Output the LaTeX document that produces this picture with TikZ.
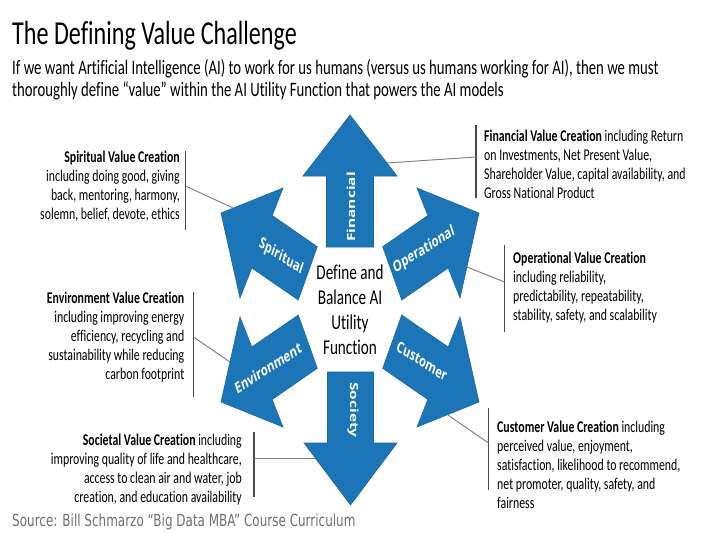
\documentclass[tikz,border=0pt]{standalone}
\usepackage{fontspec}
\setmainfont{Carlito}[FakeStretch=0.72, Ligatures=NoCommon]
\newfontfamily\srcfont{DejaVu Sans}[FakeStretch=0.72]
\newfontfamily\lblfont{Open Sans}
\definecolor{arrowblue}{HTML}{1C75B6}
\definecolor{arrowedge}{HTML}{1A68A2}
\definecolor{barcol}{HTML}{4A4A4A}
\definecolor{conncol}{HTML}{7F7F7F}
\definecolor{srcgray}{HTML}{707070}
\begin{document}
\begin{tikzpicture}[x={(0.03cm,0)}, y={(0,-0.03cm)},
  arrowshape/.style={fill=arrowblue, draw=arrowedge, line width=0.5pt, line join=miter},
  sidetext/.style={inner sep=0, font=\fontsize{14}{16.2}\selectfont},
  bar/.style={draw=barcol, line width=0.9pt},
  conn/.style={draw=conncol, line width=0.8pt},
  lbl/.style={text=white, inner sep=0, font=\lblfont\bfseries\fontsize{13.2}{15}\selectfont, xscale=0.72, transform shape}]
\fill[white] (0,0) rectangle (710,533);
\useasboundingbox (0,0) rectangle (710,533);

% title and subtitle
\node[anchor=base west, inner sep=0, font=\fontsize{28.6}{30}\selectfont] (title) at (12,44.5) {The Defining Value Challenge};
\node[anchor=base west, inner sep=0, font=\fontsize{17.5}{20}\selectfont] (sub1) at (12,74) {If we want Artificial Intelligence (AI) to work for us humans (versus us humans working for AI), then we must};
\node[anchor=base west, inner sep=0, font=\fontsize{17.5}{20}\selectfont] (sub2) at (12,96) {thoroughly define “value” within the AI Utility Function that powers the AI models};

% bars
\coordinate (bS1) at (185.5,151); \coordinate (bS2) at (185.5,230);
\coordinate (bF1) at (476,125);   \coordinate (bF2) at (476,198);
\coordinate (bO1) at (504.5,245); \coordinate (bO2) at (504.5,332);
\coordinate (bE1) at (193.5,292); \coordinate (bE2) at (193.5,397);
\coordinate (bC1) at (488.5,408); \coordinate (bC2) at (488.5,490);
\coordinate (bT1) at (254,432);   \coordinate (bT2) at (254,497);
\draw[bar] (bS1) -- (bS2);
\draw[bar] (bF1) -- (bF2);
\draw[bar] (bO1) -- (bO2);
\draw[bar] (bE1) -- (bE2);
\draw[bar] (bC1) -- (bC2);
\draw[bar] (bT1) -- (bT2);

% connector ends
\coordinate (cS) at (185.5,186); \coordinate (aS) at (233,208);
\coordinate (cF) at (476,157);   \coordinate (aF) at (387,163);
\coordinate (cO) at (504.5,282); \coordinate (aO) at (467,267);
\coordinate (cE) at (193.5,337); \coordinate (aE) at (230,362);
\coordinate (cC) at (488.5,443); \coordinate (aC) at (448,415);
\coordinate (cT) at (254,458);   \coordinate (aT) at (315,458);
\draw[conn] (cS) -- (aS);
\draw[conn] (cF) -- (aF);
\draw[conn] (cO) -- (aO);
\draw[conn] (cE) -- (aE);
\draw[conn] (cC) -- (aC);
\draw[conn] (cT) -- (aT);

% arrows
\draw[arrowshape] (350,115) -- (397,176) -- (373.5,176) -- (373.5,247) -- (326.5,247) -- (326.5,176) -- (303,176) -- cycle;
\draw[arrowshape] (350.5,505) -- (304,443) -- (327.5,443) -- (327.5,372) -- (373.5,372) -- (373.5,443) -- (397,443) -- cycle;
\draw[arrowshape] (479,213) -- (460,298) -- (448.2,268) -- (401.7,300) -- (382.7,246.7) -- (427.8,215.5) -- (417,188) -- cycle;
\draw[arrowshape] (479,402) -- (460,317) -- (448.2,347) -- (401.7,315) -- (382.7,368.3) -- (427.8,399.5) -- (417,427) -- cycle;
\draw[arrowshape] (221,213) -- (240,298) -- (251.8,268) -- (298.3,300) -- (317.3,246.7) -- (272.2,215.5) -- (283,188) -- cycle;
\draw[arrowshape] (221,402) -- (240,317) -- (251.8,347) -- (298.3,315) -- (317.3,368.3) -- (272.2,399.5) -- (283,427) -- cycle;

% arrow labels
\begin{scope}[shift={(351,207)}]\node[lbl, rotate=90] (lF) at (0,0) {Financial};\end{scope}
\begin{scope}[shift={(353,410)}]\node[lbl, rotate=-90] (lT) at (0,0) {Society};\end{scope}
\begin{scope}[shift={(281,257)}]\node[lbl, rotate=-25] (lS) at (0,0) {Spiritual};\end{scope}
\begin{scope}[shift={(424,250)}]\node[lbl, rotate=25] (lO) at (0,0) {Operational};\end{scope}
\begin{scope}[shift={(422,361)}]\node[lbl, rotate=-25] (lC) at (0,0) {Customer};\end{scope}
\begin{scope}[shift={(268,368)}]\node[lbl, rotate=25] (lE) at (0,0) {Environment};\end{scope}

% centre
\node[align=center, anchor=north, inner sep=0, font=\fontsize{18}{21.3}\selectfont] (ctr) at (350,264.5) {Define and\\Balance AI\\Utility\\Function};

% side texts
\node[sidetext, anchor=north east, align=right] (tS) at (180,150.5) {\textbf{Spiritual Value Creation}\\including doing good, giving\\back, mentoring, harmony,\\solemn, belief, devote, ethics};
\node[sidetext, anchor=north west, align=left] (tF) at (484,130) {\textbf{Financial Value Creation} including Return\\on Investments, Net Present Value,\\Shareholder Value, capital availability, and\\Gross National Product};
\node[sidetext, anchor=north west, align=left] (tO) at (513,251.5) {\textbf{Operational Value Creation}\\including reliability,\\predictability, repeatability,\\stability, safety, and scalability};
\node[sidetext, anchor=north east, align=right] (tE) at (184.5,291.5) {\textbf{Environment Value Creation}\\including improving energy\\efficiency, recycling and\\sustainability while reducing\\carbon footprint};
\node[sidetext, anchor=north west, align=left] (tC) at (497,420.5) {\textbf{Customer Value Creation} including\\perceived value, enjoyment,\\satisfaction, likelihood to recommend,\\net promoter, quality, safety, and\\fairness};
\node[sidetext, anchor=north east, align=right] (tT) at (242,433.5) {\textbf{Societal Value Creation} including\\improving quality of life and healthcare,\\access to clean air and water, job\\creation, and education availability};

% source
\node[anchor=base west, inner sep=0, text=srcgray, font=\srcfont\fontsize{14.2}{16}\selectfont] (src) at (12,526.5) {Source: Bill Schmarzo “Big Data MBA” Course Curriculum};
\end{tikzpicture}
\end{document}
